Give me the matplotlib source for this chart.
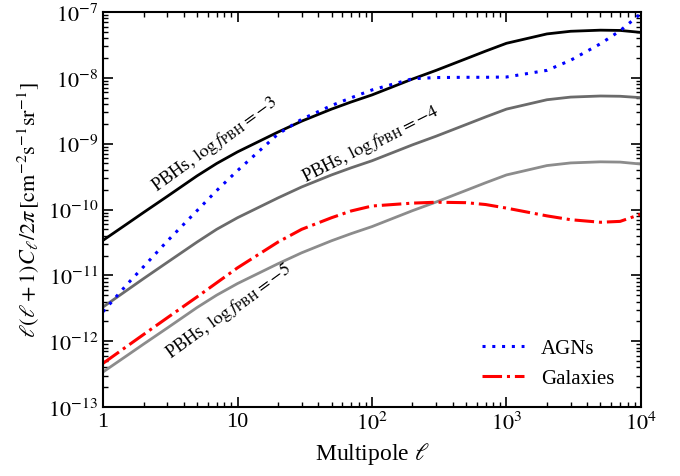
import numpy as np
import matplotlib
matplotlib.use("Agg")
import matplotlib.pyplot as plt
from matplotlib.ticker import NullFormatter

plt.rcParams['font.family'] = ['Liberation Serif', 'DejaVu Serif']
plt.rcParams['mathtext.fontset'] = 'stix'

# multipoles
ell = [1, 1.5, 2, 3, 5, 7, 10, 20, 30, 50, 70, 100, 200, 300, 500, 700,
       1000, 2000, 3000, 5000, 7000, 10000]

# PBHs, log f = -3
pbh3 = [3.4e-11, 6.0e-11, 9.0e-11, 1.58e-10, 3.24e-10, 5.0e-10, 7.5e-10, 1.5e-9,
        2.2e-9, 3.35e-9, 4.3e-9, 5.5e-9, 9.6e-9, 1.3e-8, 1.95e-8, 2.55e-8,
        3.35e-8, 4.65e-8, 5.1e-8, 5.3e-8, 5.25e-8, 4.9e-8]
# PBHs, log f = -4
pbh4 = [3.3e-12, 5.9e-12, 8.9e-12, 1.57e-11, 3.2e-11, 5.0e-11, 7.5e-11, 1.5e-10,
        2.2e-10, 3.35e-10, 4.3e-10, 5.5e-10, 9.6e-10, 1.3e-9, 1.95e-9, 2.55e-9,
        3.35e-9, 4.65e-9, 5.1e-9, 5.3e-9, 5.25e-9, 5.0e-9]
# PBHs, log f = -5
pbh5 = [3.4e-13, 6.0e-13, 9.0e-13, 1.58e-12, 3.24e-12, 5.0e-12, 7.5e-12, 1.5e-11,
        2.2e-11, 3.35e-11, 4.3e-11, 5.5e-11, 9.6e-11, 1.3e-10, 1.95e-10, 2.55e-10,
        3.35e-10, 4.65e-10, 5.1e-10, 5.3e-10, 5.25e-10, 4.9e-10]
# AGNs
agn = [2.8e-12, 7.2e-12, 1.35e-11, 3.3e-11, 9.6e-11, 1.94e-10, 3.9e-10, 1.4e-9,
       2.35e-9, 3.8e-9, 4.98e-9, 6.55e-9, 9.7e-9, 1.01e-8, 1.02e-8, 1.02e-8,
       1.03e-8, 1.3e-8, 1.85e-8, 3.3e-8, 5.2e-8, 9.5e-8]
# Galaxies
gal = [4.6e-13, 8.3e-13, 1.26e-12, 2.26e-12, 4.7e-12, 7.7e-12, 1.3e-11, 3.2e-11,
       5.0e-11, 7.5e-11, 9.5e-11, 1.13e-10, 1.25e-10, 1.29e-10, 1.27e-10, 1.19e-10,
       1.05e-10, 8.0e-11, 7.0e-11, 6.4e-11, 6.6e-11, 8.5e-11]

xticks = [1, 10, 100, 1000, 10000]
xticklabels = ['1', '10', r'$10^2$', r'$10^3$', r'$10^4$']
yticks = [1e-13, 1e-12, 1e-11, 1e-10, 1e-9, 1e-8, 1e-7]
yticklabels = [r'$10^{-13}$', r'$10^{-12}$', r'$10^{-11}$', r'$10^{-10}$',
               r'$10^{-9}$', r'$10^{-8}$', r'$10^{-7}$']

fig = plt.figure(figsize=(6.8, 4.77), dpi=100)
ax = fig.add_axes([0.1515, 0.1447, 0.7911, 0.828])

ax.plot(ell, pbh3, color='black', lw=2.0)
ax.plot(ell, pbh4, color='#6b6b6b', lw=2.0)
ax.plot(ell, pbh5, color='#8c8c8c', lw=2.0)
ax.plot(ell, agn, color='blue', lw=2.2, ls=(0, (1, 2.2)), label='AGNs')
ax.plot(ell, gal, color='red', lw=2.2, ls='-.', label='Galaxies')

ax.set_xscale('log')
ax.set_yscale('log')
ax.set_xlim(1, 1e4)
ax.set_ylim(1e-13, 1e-7)
ax.set_xticks(xticks)
ax.set_xticklabels(xticklabels)
ax.set_yticks(yticks)
ax.set_yticklabels(yticklabels)
ax.xaxis.set_minor_formatter(NullFormatter())
ax.yaxis.set_minor_formatter(NullFormatter())

ax.tick_params(which='both', direction='in', top=True, right=True, labelsize=16)
ax.tick_params(which='major', length=7, width=1.2)
ax.tick_params(which='minor', length=3.5, width=1.0)
for s in ax.spines.values():
    s.set_linewidth(1.5)

ax.set_xlabel(r'Multipole $\ell$', fontsize=17)
ax.set_ylabel(r'$\ell(\ell+1)C_\ell/2\pi\,[\mathrm{cm}^{-2}\mathrm{s}^{-1}\mathrm{sr}^{-1}]$',
              fontsize=16)

ax.text(6.8, 1.0e-9, r'PBHs, $\log f_{\rm PBH}=-3$', rotation=36, fontsize=13.3,
        ha='center', va='center')
ax.text(98, 1.0e-9, r'PBHs, $\log f_{\rm PBH}=-4$', rotation=27, fontsize=13.3,
        ha='center', va='center')
ax.text(8.6, 2.9e-12, r'PBHs, $\log f_{\rm PBH}=-5$', rotation=36, fontsize=13.3,
        ha='center', va='center')

ax.legend(loc='lower right', frameon=False, fontsize=15, handlelength=2.0,
          bbox_to_anchor=(0.985, 0.0))

fig.savefig('out.png', dpi=100)
